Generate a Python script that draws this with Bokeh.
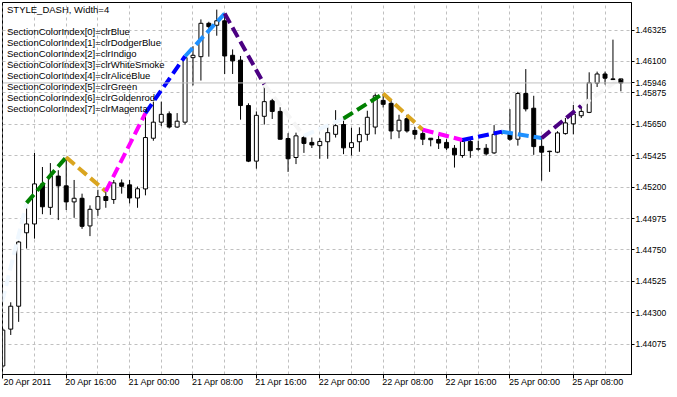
from bokeh.plotting import figure
from bokeh.models import FixedTicker, Range1d, Span, Label, ColumnDataSource, PrintfTickFormatter
from bokeh.embed import file_html
from bokeh.resources import INLINE

# ---- hourly EURUSD-like candles (bar index 0 = 20 Apr 2011 08:00) ----
opens = [1.43919, 1.44183, 1.44347, 1.44873, 1.44936, 1.45223, 1.45055, 1.45279, 1.45209, 1.45094,
         1.45120, 1.44922, 1.45041, 1.45132, 1.45111, 1.45230, 1.45216, 1.45122, 1.45187, 1.45550,
         1.45665, 1.45725, 1.45630, 1.45665, 1.46127, 1.46134, 1.46373, 1.46359, 1.46391, 1.46144,
         1.46109, 1.45784, 1.45386, 1.45707, 1.45818, 1.45742, 1.45548, 1.45412, 1.45555, 1.45520,
         1.45497, 1.45525, 1.45578, 1.45648, 1.45483, 1.45525, 1.45578, 1.45630, 1.45821, 1.45800,
         1.45602, 1.45690, 1.45606, 1.45583, 1.45550, 1.45541, 1.45520, 1.45478, 1.45426, 1.45527,
         1.45474, 1.45478, 1.45445, 1.45586, 1.45578, 1.45543, 1.45870, 1.45765, 1.45492, 1.45457,
         1.45450, 1.45583, 1.45653, 1.45711, 1.45735, 1.45945, 1.46010, 1.45975, 1.45975]
highs = [1.44188, 1.44375, 1.44815, 1.45087, 1.45445, 1.45344, 1.45372, 1.45321, 1.45414, 1.45251,
         1.45153, 1.45069, 1.45181, 1.45169, 1.45251, 1.45255, 1.45251, 1.45204, 1.45730, 1.45812,
         1.45812, 1.45742, 1.45730, 1.46137, 1.46209, 1.46401, 1.46384, 1.46471, 1.46443, 1.46186,
         1.46139, 1.45800, 1.45742, 1.45935, 1.45832, 1.45772, 1.45586, 1.45590, 1.45567, 1.45555,
         1.45550, 1.45649, 1.45751, 1.45691, 1.45625, 1.45628, 1.45747, 1.45870, 1.45870, 1.45823,
         1.45718, 1.45718, 1.45630, 1.45611, 1.45551, 1.45574, 1.45543, 1.45501, 1.45537, 1.45543,
         1.45532, 1.45508, 1.45644, 1.45597, 1.45758, 1.45882, 1.46045, 1.45854, 1.45551, 1.45460,
         1.45600, 1.45695, 1.45788, 1.45783, 1.46022, 1.46027, 1.46027, 1.46256, 1.45980]
lows = [1.43907, 1.44141, 1.44235, 1.44760, 1.44831, 1.45006, 1.45001, 1.44964, 1.45036, 1.44980,
        1.44901, 1.44849, 1.44994, 1.45052, 1.45080, 1.45153, 1.45083, 1.45052, 1.45141, 1.45532,
        1.45637, 1.45620, 1.45625, 1.45648, 1.45928, 1.45963, 1.46134, 1.46284, 1.46010, 1.46010,
        1.45683, 1.45379, 1.45332, 1.45648, 1.45688, 1.45541, 1.45309, 1.45365, 1.45445, 1.45480,
        1.45403, 1.45403, 1.45555, 1.45436, 1.45426, 1.45453, 1.45532, 1.45578, 1.45770, 1.45543,
        1.45550, 1.45590, 1.45543, 1.45501, 1.45492, 1.45473, 1.45466, 1.45340, 1.45410, 1.45410,
        1.45461, 1.45426, 1.45438, 1.45576, 1.45532, 1.45497, 1.45742, 1.45431, 1.45246, 1.45309,
        1.45443, 1.45576, 1.45578, 1.45695, 1.45730, 1.45917, 1.45935, 1.45968, 1.45886]
closes = [1.44176, 1.44347, 1.44807, 1.44936, 1.45223, 1.45059, 1.45279, 1.45209, 1.45094, 1.45120,
          1.44919, 1.45041, 1.45132, 1.45104, 1.45230, 1.45206, 1.45122, 1.45188, 1.45555, 1.45665,
          1.45721, 1.45630, 1.45672, 1.46127, 1.46144, 1.46373, 1.46349, 1.46391, 1.46139, 1.46104,
          1.45784, 1.45386, 1.45714, 1.45812, 1.45742, 1.45543, 1.45403, 1.45567, 1.45513, 1.45502,
          1.45527, 1.45590, 1.45640, 1.45481, 1.45518, 1.45576, 1.45700, 1.45854, 1.45793, 1.45602,
          1.45679, 1.45602, 1.45578, 1.45543, 1.45539, 1.45515, 1.45480, 1.45431, 1.45527, 1.45461,
          1.45472, 1.45438, 1.45578, 1.45591, 1.45543, 1.45870, 1.45760, 1.45490, 1.45450, 1.45454,
          1.45588, 1.45660, 1.45723, 1.45742, 1.45947, 1.46010, 1.45980, 1.45970, 1.45946]

# ---- colored sections: a vertex on the High of every 5th bar ----
section_bars = [-2, 3, 8, 13, 18, 23, 28, 33, 38, 43, 48, 53, 58, 63, 68, 73, 78]
first_section_value = 1.43935      # High of bar -2 (left of the visible area)
section_colors = ["#F0F8FF", "#008000", "#DAA520", "#FF00FF", "#0000FF", "#1E90FF", "#4B0082", "#F5F5F5",
                  "#F0F8FF", "#008000", "#DAA520", "#FF00FF", "#0000FF", "#1E90FF", "#4B0082", "#F5F5F5"]

x_tick_bars = [0, 8, 16, 24, 32, 40, 48, 56, 64, 72]
x_tick_labels = ["20 Apr 2011", "20 Apr 16:00", "21 Apr 00:00", "21 Apr 08:00", "21 Apr 16:00",
                 "22 Apr 00:00", "22 Apr 08:00", "22 Apr 16:00", "25 Apr 00:00", "25 Apr 08:00"]
y_ticks = [1.44075, 1.44300, 1.44525, 1.44750, 1.44975, 1.45200, 1.45425, 1.45650, 1.45875, 1.46100, 1.46325]
bid_price = 1.45946

info_lines = ["STYLE_DASH,  Width=4", "",
              "SectionColorIndex[0]=clrBlue", "SectionColorIndex[1]=clrDodgerBlue",
              "SectionColorIndex[2]=clrIndigo", "SectionColorIndex[3]=clrWhiteSmoke",
              "SectionColorIndex[4]=clrAliceBlue", "SectionColorIndex[5]=clrGreen",
              "SectionColorIndex[6]=clrGoldenrod", "SectionColorIndex[7]=clrMagenta"]

# ---- build ----
n = len(opens)
bars = list(range(n))
up = [c >= o for o, c in zip(opens, closes)]
src = ColumnDataSource(dict(
    x=bars, o=opens, h=highs, l=lows, c=closes,
    top=[max(o, c) for o, c in zip(opens, closes)],
    bot=[min(o, c) for o, c in zip(opens, closes)],
    fill=["white" if u else "black" for u in up],
))

sec_vals = [first_section_value] + [highs[b] for b in section_bars[1:]]
sec_src = ColumnDataSource(dict(
    x0=section_bars[:-1], y0=sec_vals[:-1], x1=section_bars[1:], y1=sec_vals[1:], color=section_colors))

x_lo, x_hi = -0.04, 79.34
y_lo, y_hi = 1.43858, 1.46522

p = figure(width=669, height=389, output_backend="svg", toolbar_location=None,
           x_range=Range1d(x_lo, x_hi), y_range=Range1d(y_lo, y_hi),
           y_axis_location="right",
           min_border_left=2, min_border_top=2, min_border_right=0, min_border_bottom=0)
p.background_fill_color = "white"
p.border_fill_color = "white"
p.outline_line_color = "black"
p.outline_line_width = 1

FONT = "Liberation Sans"

# bottom axis: tick marks (minor ticks) at the labelled bars, labels starting at their tick
LABEL_SHIFT = 3.125   # half a label width, in bars (MT5 labels are left aligned on their tick)
label_pos = [b + LABEL_SHIFT for b in x_tick_bars]
ax = p.xaxis[0]
ax.ticker = FixedTicker(ticks=label_pos, minor_ticks=x_tick_bars)
ax.major_label_overrides = {pos: t for pos, t in zip(label_pos, x_tick_labels)}
ax.major_label_text_font = FONT
ax.major_label_text_font_size = "9px"
ax.major_label_text_color = "black"
ax.major_label_standoff = -2
ax.major_tick_out = 0
ax.major_tick_in = 0
ax.major_tick_line_color = None
ax.minor_tick_out = 4
ax.minor_tick_in = 0
ax.minor_tick_line_color = "black"
ax.axis_line_color = "black"

ay = p.yaxis[0]
ay.ticker = FixedTicker(ticks=y_ticks + [bid_price])
ay.formatter = PrintfTickFormatter(format="%.5f")
ay.major_label_text_font = FONT
ay.major_label_text_font_size = "8.5px"
ay.major_label_text_color = "black"
ay.major_tick_out = 3
ay.major_tick_in = 0
ay.minor_tick_out = 0
ay.minor_tick_in = 0
ay.major_label_standoff = 1
ay.axis_line_color = "black"

p.xgrid.ticker = FixedTicker(ticks=list(range(0, 80, 4)))
p.ygrid.ticker = FixedTicker(ticks=y_ticks)
for g in (p.xgrid, p.ygrid):
    g.grid_line_color = "#C0C0C0"
    g.grid_line_dash = "3 3"
    g.grid_line_width = 1

# bid line
p.add_layout(Span(location=bid_price, dimension="width", line_color="#C0C0C0", line_width=1))

# candles
p.segment(x0="x", y0="l", x1="x", y1="h", source=src, line_color="black", line_width=1)
p.vbar(x="x", width=0.5, top="top", bottom="bot", source=src,
       fill_color="fill", line_color="black", line_width=1)

# colored dashed sections
p.segment(x0="x0", y0="y0", x1="x1", y1="y1", source=sec_src, line_color="color",
          line_width=4, line_dash="11 5", line_cap="butt")

# info text
for k, line in enumerate(info_lines):
    if not line:
        continue
    p.add_layout(Label(x=x_lo, y=y_hi, x_offset=4.5, y_offset=-(7 + 11 * k), text=line,
                       text_color="black", text_font=FONT, text_font_size="9.5px",
                       text_baseline="middle", text_align="left"))

open("out.html", "w").write(file_html(p, INLINE))
